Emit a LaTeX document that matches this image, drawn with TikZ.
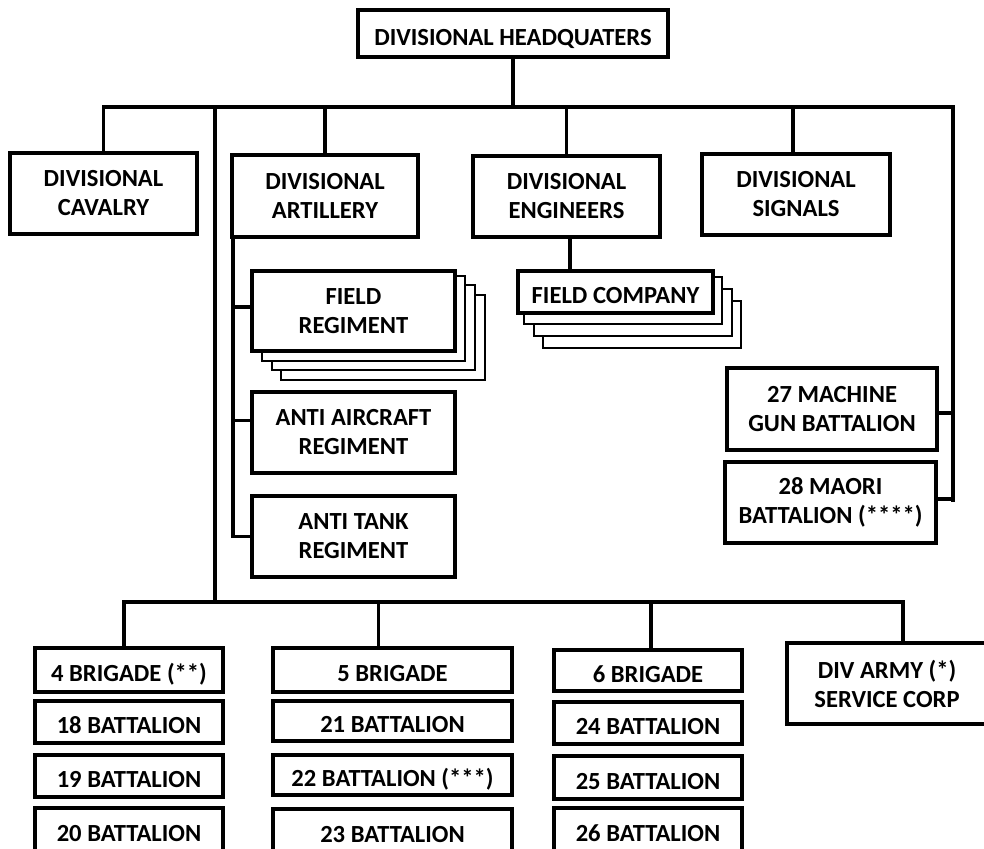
\documentclass[tikz,border=0pt]{standalone}
\usepackage{fontspec}
\setmainfont{Carlito}
\usetikzlibrary{calc}
\begin{document}
\begin{tikzpicture}[x=0.5pt,y=-0.5pt,
  base/.style={draw, line width=1.75pt, fill=white, inner sep=0pt,
    font=\bfseries\fontsize{12.3}{14.5}\selectfont},
  box/.style={base, align=center},
  one/.style={base, text height=11.5pt, text depth=0pt},
  sz/.style 2 args={minimum width=#1*0.5pt, minimum height=#2*0.5pt},
  conn/.style={line width=1.75pt},
  copybox/.style={draw, line width=1pt, fill=white}]
\useasboundingbox (0,0) rectangle (984,848);
\clip (0,0) rectangle (984,848);

% top level
\node[one, sz={310}{47}] (hq) at (513,33.5) {DIVISIONAL HEADQUATERS};
\node[box, sz={187}{81}] (cav) at (103.5,193.5) {DIVISIONAL\\CAVALRY};
\node[box, sz={186}{82}] (art) at (325,196) {DIVISIONAL\\ARTILLERY};
\node[box, sz={187}{81}] (eng) at (566.5,196.5) {DIVISIONAL\\ENGINEERS};
\node[box, sz={188}{81}] (sig) at (796,194.5) {DIVISIONAL\\SIGNALS};

% field regiment stack
\draw[copybox] (281,295) rectangle (485,380);
\draw[copybox] (272,285) rectangle (475,370);
\draw[copybox] (262,276) rectangle (465,361);
\node[box, sz={203}{80}] (fr) at (353.5,311) {FIELD\\REGIMENT};
\node[box, sz={203}{81}] (aa) at (353.5,432.5) {ANTI AIRCRAFT\\REGIMENT};
\node[box, sz={203}{81}] (at) at (353.5,536.5) {ANTI TANK\\REGIMENT};

% field company stack
\draw[copybox] (543,301) rectangle (741,348);
\draw[copybox] (534,289) rectangle (732,336);
\draw[copybox] (524,277) rectangle (722,324);
\node[one, sz={195}{42}] (fc) at (615.5,292) {FIELD COMPANY};

% right column
\node[box, sz={210}{82}] (mg) at (832,409) {27 MACHINE\\GUN BATTALION};
\node[box, sz={211}{81}] (mao) at (830.5,502.5) {28 MAORI\\BATTALION (****)};

% brigades
\node[one, sz={188}{44}] (b4) at (129,670) {4 BRIGADE (**)};
\node[one, sz={188}{42}] (bn18) at (129,722) {18 BATTALION};
\node[one, sz={188}{42}] (bn19) at (129,776) {19 BATTALION};
\node[one, sz={188}{44}] (bn20) at (129,830) {20 BATTALION};

\node[one, sz={239}{44}] (b5) at (392.5,670) {5 BRIGADE};
\node[one, sz={239}{40}] (bn21) at (392.5,721) {21 BATTALION};
\node[one, sz={239}{40}] (bn22) at (392.5,775) {22 BATTALION (***)};
\node[one, sz={239}{44}] (bn23) at (392.5,831) {23 BATTALION};

\node[one, sz={188}{41}] (b6) at (648,670.5) {6 BRIGADE};
\node[one, sz={188}{42}] (bn24) at (648,723) {24 BATTALION};
\node[one, sz={188}{43}] (bn25) at (648,777.5) {25 BATTALION};
\node[one, sz={188}{44}] (bn26) at (648,830) {26 BATTALION};

\node[box, sz={200}{81}] (div) at (887,683.5) {DIV ARMY (*)\\SERVICE CORP};

% connectors, top level
\coordinate (jT) at (513,107);
\coordinate (jR) at (953,107);
\coordinate (rEnd) at (953,502);
\draw[conn] (hq.south) -- (jT);
\draw[conn] (cav.north) |- (jR) -- (rEnd);
\draw[conn] (art.north) -- (art.north |- jT);
\draw[conn] (eng.north) -- (eng.north |- jT);
\draw[conn] ([xshift=-1.5pt]sig.north) -- ([xshift=-1.5pt]sig.north |- jT);
\draw[conn] ([yshift=-2pt]mg.east) -- ([yshift=-2pt]mg.east -| rEnd);
\draw[conn] ([yshift=1.75pt]mao.east) -- ([yshift=1.75pt]mao.east -| rEnd);

% artillery sub-units
\coordinate (artL) at (233,237);
\draw[conn] (artL) |- (at.west);
\draw[conn] ([yshift=2pt]fr.west) -- ([yshift=2pt]fr.west -| artL);
\draw[conn] ([yshift=6pt]aa.west) -- ([yshift=6pt]aa.west -| artL);

% engineers sub-unit
\draw[conn] ([xshift=1.75pt]eng.south) -- ([xshift=1.75pt]eng.south |- fc.north);

% brigade trunk
\coordinate (trT) at (215,107);
\coordinate (bb) at (215,602);
\coordinate (divTop) at (903,643);
\draw[conn] (trT) -- (bb);
\draw[conn] ([xshift=-2.5pt]b4.north) |- (bb) -| (divTop);
\draw[conn] ([xshift=-7pt]b5.north) -- ([xshift=-7pt]b5.north |- bb);
\draw[conn] ([xshift=1.5pt]b6.north) -- ([xshift=1.5pt]b6.north |- bb);
\end{tikzpicture}
\end{document}
